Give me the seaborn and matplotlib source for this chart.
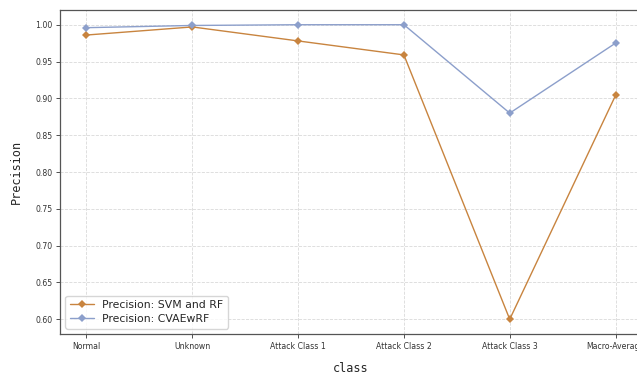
import matplotlib
matplotlib.use("Agg")
import matplotlib.pyplot as plt
import seaborn as sns
import pandas as pd

classes = ["Normal", "Unknown", "Attack Class 1", "Attack Class 2", "Attack Class 3", "Macro-Average"]
svm_rf = [0.986, 0.997, 0.978, 0.959, 0.600, 0.904]
cvaewrf = [0.996, 0.999, 1.000, 1.000, 0.880, 0.975]
series_names = ["Precision: SVM and RF", "Precision: CVAEwRF"]

df = pd.DataFrame({
    "class": classes * 2,
    "Precision": svm_rf + cvaewrf,
    "series": [series_names[0]] * len(classes) + [series_names[1]] * len(classes),
})

sns.set_style("whitegrid")
fig = plt.figure(figsize=(6.37, 3.75), dpi=100)
ax = fig.add_axes([60 / 637, 41 / 375, 582 / 637, 324 / 375])

palette = {series_names[0]: "#c8843f", series_names[1]: "#8c9fcb"}
sns.lineplot(data=df, x="class", y="Precision", hue="series", palette=palette,
             marker="D", markersize=4, markeredgewidth=0, linewidth=1.0,
             sort=False, ax=ax)

ax.set_xlim(-0.25, 5.25)
ax.set_ylim(0.58, 1.02)
ax.set_yticks([0.60, 0.65, 0.70, 0.75, 0.80, 0.85, 0.90, 0.95, 1.00])
ax.set_yticklabels([f"{v:.2f}" for v in ax.get_yticks()])
ax.tick_params(axis="both", labelsize=5.6, length=3, width=0.6, colors="#333333",
               left=True, bottom=True, pad=2.5)
ax.grid(True, linestyle="--", color="#d9d9d9", linewidth=0.6)

for side in ["left", "bottom", "top"]:
    ax.spines[side].set_color("#555555")
    ax.spines[side].set_linewidth(0.9)
ax.spines["right"].set_visible(False)

ax.set_xlabel("class", family="DejaVu Sans Mono", fontsize=8.6, labelpad=8)
ax.set_ylabel("Precision", family="DejaVu Sans Mono", fontsize=8.6, labelpad=9)

leg = ax.legend(loc="lower left", fontsize=7.8, frameon=True, borderpad=0.4,
                handlelength=2.2, labelspacing=0.4)
leg.get_frame().set_edgecolor("#cccccc")

fig.savefig("out.png", dpi=100)
